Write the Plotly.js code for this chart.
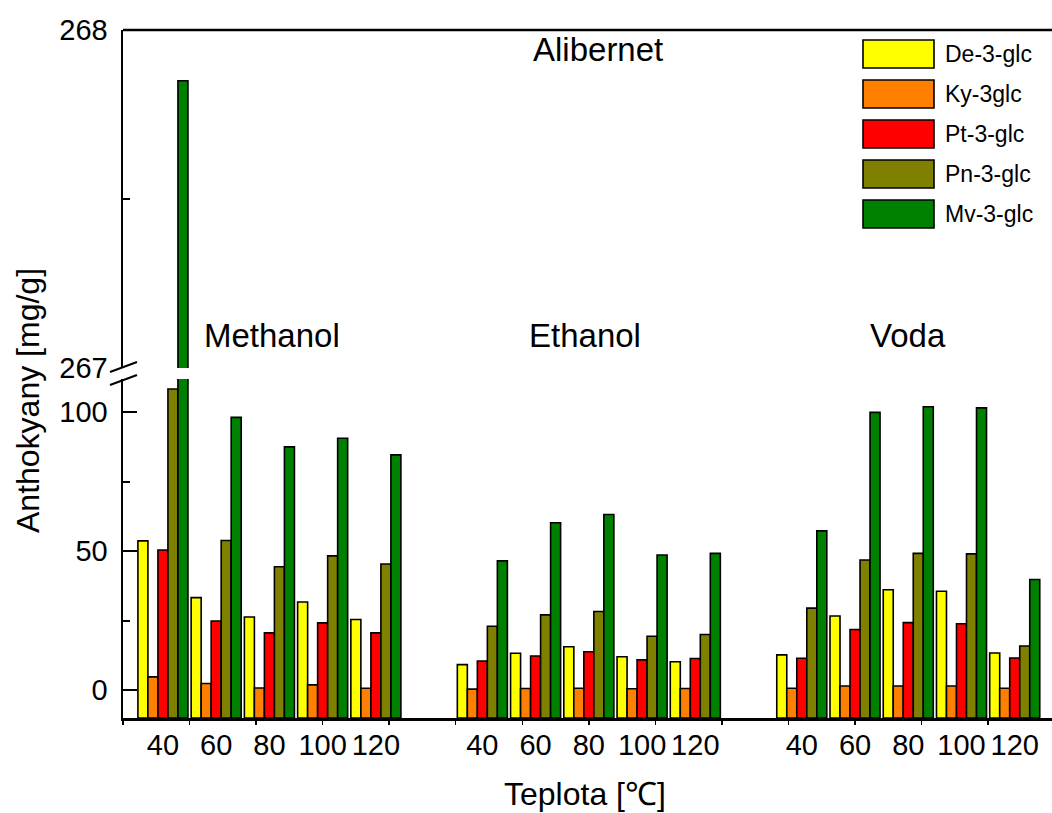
<!DOCTYPE html>
<html>
<head>
<meta charset="utf-8">
<script src="https://cdn.plot.ly/plotly-3.0.1.min.js"></script>
<style>html,body{margin:0;padding:0;background:#fff;}</style>
</head>
<body>
<div id="chart" style="width:1052px;height:813px;"></div>
<script>
// ---- data ----
const solvents = ['Methanol', 'Ethanol', 'Voda'];
const temps = ['40', '60', '80', '100', '120'];
const seriesNames = ['De-3-glc', 'Ky-3glc', 'Pt-3-glc', 'Pn-3-glc', 'Mv-3-glc'];
const de3glc = [53.7, 33.3, 26.3, 31.7, 25.4, 9.2, 13.3, 15.6, 12.0, 10.2, 12.7, 26.7, 36.1, 35.6, 13.4];
const ky3glc = [4.8, 2.4, 0.8, 1.9, 0.7, 0.4, 0.6, 0.7, 0.5, 0.6, 0.7, 1.5, 1.5, 1.5, 0.7];
const pt3glc = [50.4, 24.9, 20.6, 24.2, 20.6, 10.5, 12.3, 13.8, 10.9, 11.4, 11.5, 21.8, 24.3, 23.9, 11.6];
const pn3glc = [108.3, 53.8, 44.4, 48.3, 45.4, 23.0, 27.1, 28.3, 19.4, 20.0, 29.5, 46.8, 49.2, 49.0, 15.9];
const mv3glc = [267.85, 98.1, 87.5, 90.6, 84.6, 46.5, 60.2, 63.2, 48.6, 49.2, 57.3, 99.9, 101.9, 101.5, 39.8];
const chartTitle = 'Alibernet';
const xTitle = 'Teplota [℃]';
const yTitle = 'Anthokyany [mg/g]';

// ---- styles ----
const colors = ['#FFFF00', '#FF8000', '#FF0000', '#808000', '#008000'];
const allSeries = [de3glc, ky3glc, pt3glc, pn3glc, mv3glc];
const FONT = 'Liberation Sans, Arial, sans-serif';
const baseVal = -10;
const lowRange = [-10, 111.9];
const highRange = [267, 268];

// x positions: groups of temperatures per solvent, separated by one empty slot
const xs = [];
const tickText = [];
solvents.forEach((s, si) => temps.forEach((t, ti) => { xs.push(si * (temps.length + 1) + ti); tickText.push(t); }));

const traces = [];
['y', 'y2'].forEach(ax => {
  allSeries.forEach((vals, i) => {
    traces.push({
      type: 'bar', x: xs, y: vals.map(v => v - baseVal), base: baseVal,
      yaxis: ax, xaxis: 'x', name: seriesNames[i], showlegend: false,
      marker: {color: colors[i], line: {color: '#000', width: 1.6}},
      customdata: vals, hovertemplate: '%{customdata}<extra>' + seriesNames[i] + '</extra>'
    });
  });
});

// pixel helpers for paper coords
const L = 123, T = 30, B = 718, W = 1052 - L, H = B - T;
const px = x => (x - L) / W;
const py = y => (B - y) / H;

const shapes = [
  {type: 'line', xref: 'paper', yref: 'paper', x0: 0, x1: 1, y0: 1, y1: 1, line: {color: '#000', width: 2.5}},
  {type: 'line', xref: 'paper', yref: 'paper', x0: px(110), x1: px(137), y0: py(372), y1: py(362), line: {color: '#000', width: 2}},
  {type: 'line', xref: 'paper', yref: 'paper', x0: px(110), x1: px(137), y0: py(385), y1: py(375), line: {color: '#000', width: 2}}
];
const ann = (text, x, y, size, extra) => Object.assign({text: text, xref: 'paper', yref: 'paper', x: px(x), y: py(y),
  xanchor: 'center', yanchor: 'middle', showarrow: false, font: {size: size, color: '#000', family: FONT}}, extra || {});
const annotations = [
  ann(chartTitle, 598, 49, 33),
  ann(xTitle, 585, 794, 32),
  ann(yTitle, 28, 401, 32, {textangle: -90})
];
const solventX = [272, 585, 908];
solvents.forEach((s, i) => annotations.push(ann(s, solventX[i], 335, 33)));
// custom legend
seriesNames.forEach((n, i) => {
  shapes.push({type: 'rect', xref: 'paper', yref: 'paper', x0: px(863), x1: px(934), y0: py(40 + i * 40), y1: py(68 + i * 40),
    fillcolor: colors[i], line: {color: '#000', width: 1.6}});
  annotations.push(ann(n, 943, 54 + i * 40, 23, {xanchor: 'left'}));
});

const lowTop = py(379), highBottom = py(368);
const tf = {size: 29, color: '#000', family: FONT};
const layout = {
  width: 1052, height: 813,
  margin: {l: L, r: 0, t: T, b: 813 - B},
  paper_bgcolor: '#fff', plot_bgcolor: '#fff',
  barmode: 'group', bargap: 0.06, bargroupgap: 0,
  font: {family: FONT, color: '#000'},
  showlegend: false,
  xaxis: {
    range: [-0.75, 16.7], showline: true, linecolor: '#000', linewidth: 2.5,
    tickmode: 'array', tickvals: xs, ticktext: tickText, ticks: '', showgrid: false, zeroline: false,
    tickfont: tf,
    minor: {tickmode: 'linear', tick0: 0.5, dtick: 1.25, ticks: 'outside', ticklen: 4, tickwidth: 1.5, tickcolor: '#000', showgrid: false}
  },
  yaxis: {
    domain: [0, lowTop], range: lowRange, showline: true, linecolor: '#000', linewidth: 2.5,
    tickmode: 'array', tickvals: [0, 50, 100], ticks: 'inside', ticklen: 14, tickwidth: 2, tickcolor: '#000',
    showgrid: false, zeroline: false, tickfont: tf, ticklabelstandoff: 7,
    minor: {tickmode: 'array', tickvals: [25, 75], ticks: 'inside', ticklen: 7, tickwidth: 2, tickcolor: '#000', showgrid: false}
  },
  yaxis2: {
    domain: [highBottom, 1], range: highRange, anchor: 'x', showline: true, linecolor: '#000', linewidth: 2.5,
    tickmode: 'array', tickvals: [267, 268], ticks: 'inside', ticklen: 14, tickwidth: 2, tickcolor: '#000',
    showgrid: false, zeroline: false, tickfont: tf, ticklabelstandoff: 7,
    minor: {tickmode: 'array', tickvals: [267.5], ticks: 'inside', ticklen: 7, tickwidth: 2, tickcolor: '#000', showgrid: false}
  },
  shapes: shapes, annotations: annotations
};
Plotly.newPlot('chart', traces, layout, {displayModeBar: false, staticPlot: true});
</script>
</body>
</html>
